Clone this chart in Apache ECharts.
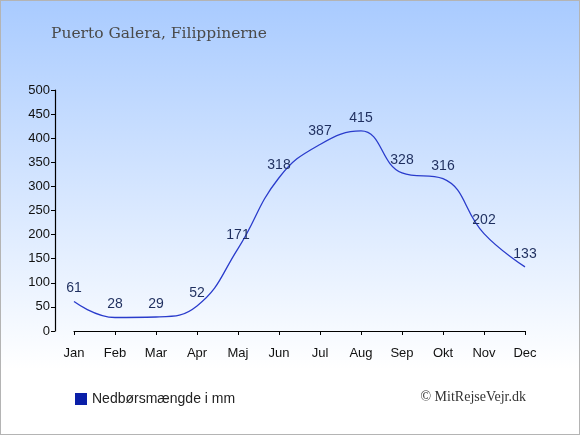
<!DOCTYPE html>
<html>
<head>
<meta charset="utf-8">
<script src="https://cdn.jsdelivr.net/npm/echarts@6/dist/echarts.min.js"></script>
<style>
html, body { margin: 0; padding: 0; }
#chart { width: 578px; height: 433px; border: 1px solid #b4b4b4; }
</style>
</head>
<body>
<div id="chart"></div>
<script>
// nedbør pr. måned
var months = ['Jan', 'Feb', 'Mar', 'Apr', 'Maj', 'Jun', 'Jul', 'Aug', 'Sep', 'Okt', 'Nov', 'Dec'];
var rainMm = [61, 28, 29, 52, 171, 318, 387, 415, 328, 316, 202, 133];
var seriesName = 'Nedbørsmængde i mm';

var chart = echarts.init(document.getElementById('chart'));
chart.setOption({
	animation: false,
	backgroundColor: {
		type: 'linear', x: 0, y: 0, x2: 0, y2: 1,
		colorStops: [
			{ offset: 0, color: '#a9cbff' },
			{ offset: 0.85, color: '#ffffff' },
			{ offset: 1, color: '#ffffff' }
		]
	},
	title: {
		text: 'Puerto Galera, Filippinerne',
		left: 45,
		top: 20,
		textStyle: { fontFamily: 'DejaVu Serif', fontWeight: 'normal', fontSize: 15.5, color: '#4a4a4a' }
	},
	legend: {
		data: [{ name: seriesName, icon: 'rect' }],
		left: 69,
		top: 386,
		itemWidth: 12,
		itemHeight: 12,
		itemGap: 6,
		textStyle: { fontFamily: 'Liberation Sans', fontSize: 14, color: '#222222' }
	},
	graphic: [{
		type: 'text',
		right: 53,
		top: 389,
		style: { text: '© MitRejseVejr.dk', font: '14px "Liberation Serif"', fill: '#333333' }
	}],
	grid: { left: 73, right: 54, top: 89, bottom: 103 },
	xAxis: {
		type: 'category',
		data: months,
		boundaryGap: false,
		offset: 10,
		axisLine: { lineStyle: { color: '#000000', width: 1.2 } },
		axisTick: { show: true, length: 4, inside: false, lineStyle: { color: '#000' } },
		axisLabel: { color: '#111111', fontFamily: 'Liberation Sans', fontSize: 13, margin: 6 },
		splitLine: { show: false }
	},
	yAxis: {
		type: 'value',
		min: 0,
		max: 500,
		interval: 50,
		offset: 19,
		axisLine: { show: true, lineStyle: { color: '#000000', width: 1.2 } },
		axisTick: { show: true, length: 4, lineStyle: { color: '#000' } },
		axisLabel: { color: '#111111', fontFamily: 'Liberation Sans', fontSize: 13, margin: 5 },
		splitLine: { show: false }
	},
	series: [{
		name: seriesName,
		type: 'line',
		data: rainMm,
		smooth: 0.45,
		symbol: 'circle',
		symbolSize: 0,
		showSymbol: true,
		color: '#0a1fa8',
		lineStyle: { color: '#2a3ccc', width: 1.3 },
		label: {
			show: true,
			position: 'top',
			distance: 6,
			color: '#1f2f5f',
			fontFamily: 'Liberation Sans',
			fontSize: 14
		}
	}]
});
</script>
</body>
</html>
